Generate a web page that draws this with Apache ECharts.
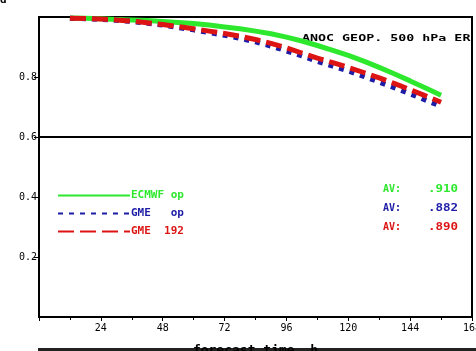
<!DOCTYPE html>
<html>
<head>
<meta charset="utf-8">
<script src="https://cdn.jsdelivr.net/npm/echarts@6/dist/echarts.min.js"></script>
<style>
  html, body { margin: 0; padding: 0; background: #fff; }
  #chart { width: 476px; height: 351px; }
</style>
</head>
<body>
<div id="chart"></div>
<script>
// forecast hours
var hours = [12, 18, 24, 30, 36, 42, 48, 54, 60, 66, 72, 78, 84, 90, 96, 102, 108, 114, 120, 126, 132, 138, 144, 150, 156];
var ecmwfOp = [0.997, 0.996, 0.994, 0.992, 0.990, 0.988, 0.985, 0.982, 0.978, 0.973, 0.967, 0.961, 0.953, 0.944, 0.933, 0.920, 0.905, 0.889, 0.872, 0.853, 0.832, 0.810, 0.787, 0.763, 0.739];
var gmeOp = [0.996, 0.994, 0.992, 0.989, 0.985, 0.979, 0.973, 0.965, 0.957, 0.948, 0.939, 0.929, 0.917, 0.903, 0.887, 0.870, 0.852, 0.836, 0.820, 0.802, 0.783, 0.764, 0.744, 0.723, 0.702];
var gme192 = [0.996, 0.995, 0.993, 0.990, 0.986, 0.981, 0.975, 0.968, 0.961, 0.953, 0.945, 0.936, 0.925, 0.912, 0.897, 0.880, 0.863, 0.848, 0.832, 0.815, 0.797, 0.778, 0.758, 0.737, 0.716];
var names = ['ECMWF op', 'GME   op', 'GME  192'];
var averages = ['.910', '.882', '.890'];
var colors = ['#2ee82e', '#1c1ca6', '#dd1414'];

function pairs(vals) {
  return hours.map(function (h, i) { return [h, vals[i]]; });
}

var chart = echarts.init(document.getElementById('chart'));
var mono = 'DejaVu Sans Mono';

var avTexts = [];
averages.forEach(function (a, i) {
  avTexts.push({
    type: 'text', x: 383, y: 184 + i * 19,
    style: { text: 'AV:', fill: colors[i], font: 'bold 10px ' + mono }
  });
  avTexts.push({
    type: 'text', x: 458, y: 184 + i * 19, scaleX: 1.25,
    style: { text: a, fill: colors[i], font: 'bold 10px ' + mono, align: 'right' }
  });
});

option = {
  animation: false,
  grid: { left: 39, right: 4, top: 17, bottom: 34, outerBoundsMode: 'none' },
  xAxis: {
    type: 'value', min: 0, max: 168, interval: 24,
    name: 'forecast time  h', nameLocation: 'middle', nameGap: 27,
    nameTextStyle: { color: '#000', fontFamily: mono, fontSize: 13, fontWeight: 'bold' },
    axisLine: { lineStyle: { color: '#000', width: 2 } },
    axisTick: { inside: false, length: 4, lineStyle: { color: '#000' } },
    minorTick: { show: true, splitNumber: 2, length: 3, lineStyle: { color: '#000' } },
    axisLabel: { showMinLabel: false, color: '#000', fontFamily: mono, fontSize: 10, margin: 6 },
    splitLine: { show: false }
  },
  yAxis: {
    type: 'value', min: 0, max: 1, interval: 0.2,
    axisLine: { show: true, lineStyle: { color: '#000', width: 2 } },
    axisTick: { show: true, length: 5, lineStyle: { color: '#000' } },
    axisLabel: { showMinLabel: false, showMaxLabel: false, color: '#000', fontFamily: mono, fontSize: 10, margin: 2,
      formatter: function (v) { return v.toFixed(1); } },
    splitLine: { show: false }
  },
  legend: {
    orient: 'vertical', left: 57, top: 190, itemWidth: 72, itemHeight: 5, itemGap: 7,
    padding: 0,
    itemStyle: { opacity: 0 },
    data: names.map(function (n, i) {
      return { name: n, textStyle: { color: colors[i] } };
    }),
    textStyle: { fontFamily: mono, fontSize: 11, fontWeight: 'bold', padding: [-6, 0, 0, -4] }
  },
  graphic: [
    { type: 'rect', shape: { x: 39, y: 17, width: 433, height: 300 }, style: { fill: 'none', stroke: '#000', lineWidth: 2 }, silent: true },
    { type: 'text', x: 302, y: 34, scaleX: 1.48,
      style: { text: 'ANOC GEOP. 500 hPa ER', fill: '#000', font: 'bold 9px ' + mono } },
    { type: 'text', x: 0, y: -5, style: { text: 'd', fill: '#000', font: 'bold 11px ' + mono } },
    { type: 'rect', shape: { x: 38, y: 348, width: 438, height: 4 }, style: { fill: '#222' } }
  ].concat(avTexts),
  series: [
    {
      name: names[0], type: 'line', data: pairs(ecmwfOp), symbol: 'none',
      color: colors[0], lineStyle: { width: 5, color: colors[0] },
      markLine: { silent: true, symbol: 'none', label: { show: false },
        lineStyle: { color: '#000', width: 2, type: 'solid' }, data: [{ yAxis: 0.6 }] }
    },
    {
      name: names[1], type: 'line', data: pairs(gmeOp), symbol: 'none',
      color: colors[1], lineStyle: { width: 5, color: colors[1], type: [5, 6], cap: 'butt' }
    },
    {
      name: names[2], type: 'line', data: pairs(gme192), symbol: 'none',
      color: colors[2], lineStyle: { width: 5, color: colors[2], type: [16, 6], cap: 'butt' }
    }
  ]
};
chart.setOption(option);
</script>
</body>
</html>
